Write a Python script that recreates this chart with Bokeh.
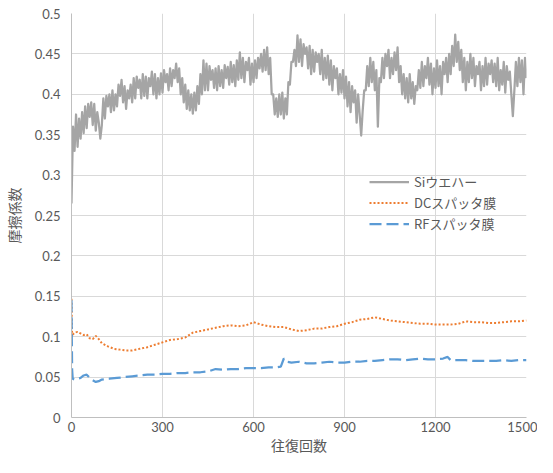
from bokeh.plotting import figure
from bokeh.models import Range1d, FixedTicker, Legend, LegendItem
from bokeh.embed import file_html
from bokeh.resources import INLINE

# ---- data ----
si_x = list(range(0, 1501, 5))
si_y = [
    0.265, 0.36, 0.33, 0.375, 0.335, 0.37, 0.345, 0.378, 0.352, 0.385,
    0.358, 0.388, 0.372, 0.39, 0.362, 0.388, 0.355, 0.378, 0.365, 0.345,
    0.362, 0.395, 0.37, 0.398, 0.385, 0.40, 0.378, 0.405, 0.38, 0.40,
    0.385, 0.412, 0.398, 0.418, 0.39, 0.41, 0.382, 0.405, 0.395, 0.412,
    0.39, 0.42, 0.395, 0.422, 0.408, 0.418, 0.395, 0.425, 0.398, 0.422,
    0.395, 0.42, 0.41, 0.428, 0.40, 0.425, 0.395, 0.42, 0.40, 0.426,
    0.402, 0.43, 0.415, 0.425, 0.405, 0.432, 0.41, 0.43, 0.42, 0.438,
    0.415, 0.432, 0.40, 0.42, 0.39, 0.412, 0.382, 0.405, 0.38, 0.40,
    0.376, 0.402, 0.38, 0.41, 0.388, 0.425, 0.40, 0.442, 0.405, 0.438,
    0.405, 0.435, 0.418, 0.43, 0.408, 0.432, 0.405, 0.435, 0.41, 0.43,
    0.408, 0.436, 0.42, 0.434, 0.412, 0.44, 0.415, 0.436, 0.41, 0.442,
    0.418, 0.452, 0.42, 0.445, 0.415, 0.44, 0.43, 0.445, 0.412, 0.438,
    0.415, 0.442, 0.42, 0.445, 0.432, 0.45, 0.428, 0.455, 0.43, 0.458,
    0.425, 0.445, 0.40, 0.40, 0.375, 0.395, 0.372, 0.40, 0.375, 0.402,
    0.37, 0.395, 0.375, 0.415, 0.412, 0.44, 0.44, 0.455, 0.435, 0.473,
    0.44, 0.468, 0.435, 0.462, 0.45, 0.458, 0.432, 0.46, 0.425, 0.455,
    0.428, 0.452, 0.44, 0.45, 0.425, 0.455, 0.418, 0.445, 0.42, 0.448,
    0.412, 0.442, 0.405, 0.435, 0.42, 0.432, 0.40, 0.425, 0.402, 0.43,
    0.395, 0.422, 0.385, 0.415, 0.378, 0.41, 0.39, 0.405, 0.365, 0.40,
    0.375, 0.349, 0.38, 0.405, 0.405, 0.435, 0.41, 0.445, 0.415, 0.44,
    0.405, 0.43, 0.36, 0.42, 0.415, 0.445, 0.42, 0.45, 0.435, 0.455,
    0.42, 0.445, 0.425, 0.452, 0.43, 0.458, 0.415, 0.435, 0.40, 0.425,
    0.395, 0.42, 0.39, 0.425, 0.395, 0.415, 0.388, 0.41, 0.405, 0.43,
    0.408, 0.44, 0.41, 0.435, 0.42, 0.445, 0.412, 0.438, 0.40, 0.432,
    0.408, 0.442, 0.41, 0.435, 0.40, 0.44, 0.425, 0.445, 0.415, 0.45,
    0.425, 0.46, 0.435, 0.474, 0.44, 0.465, 0.43, 0.455, 0.415, 0.445,
    0.405, 0.44, 0.415, 0.45, 0.42, 0.445, 0.41, 0.435, 0.425, 0.44,
    0.405, 0.435, 0.41, 0.445, 0.412, 0.438, 0.425, 0.442, 0.415, 0.438,
    0.41, 0.445, 0.405, 0.43, 0.412, 0.44, 0.402, 0.435, 0.418, 0.428,
    0.40, 0.373, 0.405, 0.44, 0.41, 0.445, 0.415, 0.442, 0.40, 0.445,
    0.42,
]

dc_x = [0, 1, 2, 5, 10, 20, 30, 40, 50, 60, 70, 80, 90, 100, 120, 140, 160, 180, 200,
        225, 250, 275, 300, 325, 350, 375, 400, 425, 450, 475, 500, 525, 550, 575,
        600, 625, 650, 675, 700, 725, 750, 775, 800, 825, 850, 875, 900, 925, 950,
        975, 1000, 1025, 1050, 1075, 1100, 1125, 1150, 1175, 1200, 1225, 1250, 1275,
        1300, 1325, 1350, 1375, 1400, 1425, 1450, 1475, 1500]
dc_y = [0.147, 0.12, 0.10, 0.103, 0.105, 0.106, 0.104, 0.102, 0.103, 0.098, 0.097, 0.101,
        0.097, 0.092, 0.088, 0.085, 0.084, 0.083, 0.083, 0.085, 0.087, 0.090, 0.093,
        0.096, 0.097, 0.099, 0.105, 0.107, 0.109, 0.111, 0.113, 0.114, 0.113, 0.114,
        0.118, 0.115, 0.113, 0.112, 0.112, 0.109, 0.107, 0.108, 0.110, 0.110, 0.112,
        0.113, 0.116, 0.118, 0.121, 0.122, 0.124, 0.122, 0.120, 0.119, 0.118, 0.117,
        0.116, 0.116, 0.115, 0.115, 0.115, 0.116, 0.119, 0.118, 0.118, 0.117, 0.117,
        0.118, 0.119, 0.119, 0.120]

rf_x = [0, 1, 2, 4, 10, 20, 30, 40, 50, 60, 70, 80, 90, 100, 125, 150, 175, 200, 225,
        250, 275, 300, 325, 350, 375, 400, 425, 450, 475, 500, 525, 550, 575, 600, 625,
        650, 675, 690, 700, 710, 725, 750, 775, 800, 825, 850, 875, 900, 925, 950, 975,
        1000, 1025, 1050, 1075, 1100, 1125, 1150, 1175, 1200, 1225, 1240, 1250, 1275,
        1300, 1325, 1350, 1375, 1400, 1425, 1450, 1475, 1500]
rf_y = [0.145, 0.10, 0.06, 0.048, 0.047, 0.048, 0.049, 0.052, 0.053, 0.049, 0.046,
        0.044, 0.045, 0.047, 0.048, 0.049, 0.050, 0.051, 0.052, 0.053, 0.053, 0.054,
        0.054, 0.055, 0.055, 0.056, 0.056, 0.057, 0.060, 0.059, 0.060, 0.060, 0.061,
        0.061, 0.061, 0.062, 0.062, 0.063, 0.073, 0.069, 0.068, 0.069, 0.067, 0.067,
        0.068, 0.069, 0.068, 0.068, 0.069, 0.069, 0.070, 0.070, 0.071, 0.072, 0.072,
        0.071, 0.072, 0.073, 0.072, 0.072, 0.073, 0.075, 0.071, 0.071, 0.071, 0.070,
        0.070, 0.070, 0.070, 0.071, 0.070, 0.071, 0.071]

series_names = ["Siウエハー", "DCスパッタ膜", "RFスパッタ膜"]
x_ticks = [0, 300, 600, 900, 1200, 1500]
y_ticks = [0, 0.05, 0.1, 0.15, 0.2, 0.25, 0.3, 0.35, 0.4, 0.45, 0.5]
y_tick_labels = ["0", "0.05", "0.1", "0.15", "0.2", "0.25", "0.3", "0.35", "0.4", "0.45", "0.5"]
x_title = "往復回数"
y_title = "摩擦係数"

# ---- figure ----
p = figure(width=537, height=457, output_backend="svg", toolbar_location=None,
           x_range=Range1d(0, 1500), y_range=Range1d(0, 0.5),
           min_border_left=69, min_border_right=11, min_border_top=13, min_border_bottom=40)
p.outline_line_color = None
p.background_fill_color = "white"
p.border_fill_color = "white"

jp_font = "Noto Sans CJK JP"
num_font = "Lato"
txt_color = "#595959"

p.xaxis.ticker = FixedTicker(ticks=x_ticks)
p.yaxis.ticker = FixedTicker(ticks=y_ticks)
p.yaxis.major_label_overrides = {t: l for t, l in zip(y_ticks, y_tick_labels)}

for ax in (p.xaxis[0], p.yaxis[0]):
    ax.axis_line_color = "#bfbfbf"
    ax.axis_line_width = 1
    ax.major_tick_line_color = None
    ax.minor_tick_line_color = None
    ax.major_tick_out = 0
    ax.major_tick_in = 0
    ax.minor_tick_out = 0
    ax.minor_tick_in = 0
    ax.major_label_text_font = num_font
    ax.major_label_text_font_size = "13px"
    ax.major_label_text_color = txt_color
    ax.axis_label_text_font = jp_font
    ax.axis_label_text_font_size = "14px"
    ax.axis_label_text_font_style = "normal"
    ax.axis_label_text_color = txt_color

p.xaxis.axis_label = x_title
p.yaxis.axis_label = y_title
p.xaxis.major_label_standoff = 4
p.xaxis.axis_label_standoff = 0
p.yaxis.major_label_standoff = 11
p.yaxis.axis_label_standoff = 8

p.xgrid.grid_line_color = "#d9d9d9"
p.ygrid.grid_line_color = "#d9d9d9"
p.xgrid.grid_line_width = 1
p.ygrid.grid_line_width = 1

r_si = p.line(si_x, si_y, line_color="#A5A5A5", line_width=2.25, line_join="round")
r_dc = p.line(dc_x, dc_y, line_color="#ED7D31", line_width=2, line_dash="2 2")
r_rf = p.line(rf_x, rf_y, line_color="#5B9BD5", line_width=2.25, line_dash="12 5")

legend = Legend(items=[LegendItem(label=series_names[0], renderers=[r_si]),
                       LegendItem(label=series_names[1], renderers=[r_dc]),
                       LegendItem(label=series_names[2], renderers=[r_rf])],
                location=(298, 183))
legend.background_fill_alpha = 0
legend.border_line_color = None
legend.padding = 0
legend.margin = 0
legend.spacing = 0
legend.glyph_width = 40
legend.glyph_height = 21
legend.label_height = 21
legend.label_standoff = 5
legend.label_text_font = jp_font
legend.label_text_font_size = "13px"
legend.label_text_color = txt_color
p.add_layout(legend, "center")

open("out.html", "w").write(file_html(p, INLINE))
